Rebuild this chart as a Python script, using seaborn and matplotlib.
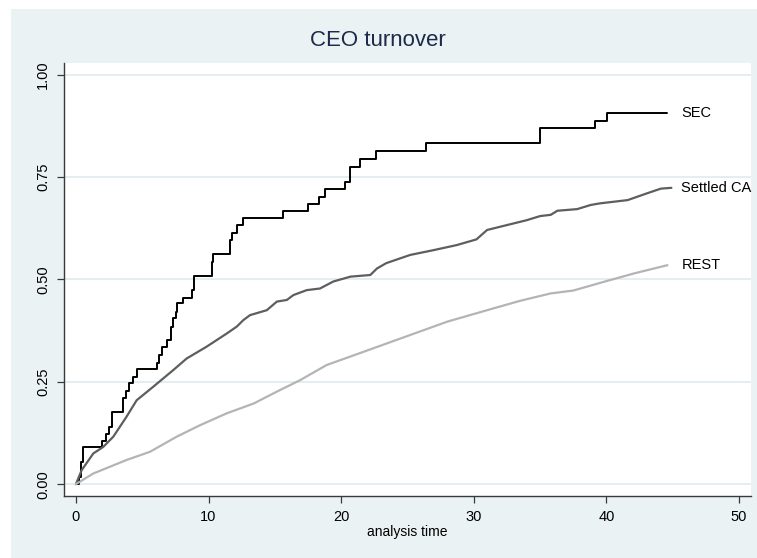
import matplotlib
matplotlib.use("Agg")
import matplotlib.pyplot as plt
from matplotlib.patches import Rectangle
import seaborn as sns
import pandas as pd

# ---- data ----
sec_time = [0, 0.2, 0.35, 0.55, 1.98, 2.3, 2.49, 2.74, 3.57, 3.77, 4.0, 4.27, 4.63,
            6.09, 6.26, 6.46, 6.84, 7.17, 7.35, 7.55, 7.65, 8.1, 8.78, 8.93, 10.24,
            10.36, 11.62, 11.75, 12.13, 12.58, 15.6, 17.46, 18.3, 18.8, 20.3, 20.7,
            21.4, 22.6, 26.4, 35.0, 39.1, 40.05, 44.6]
sec_fail = [0, 0.018, 0.054, 0.09, 0.106, 0.122, 0.14, 0.177, 0.21, 0.228, 0.248,
            0.262, 0.281, 0.297, 0.315, 0.334, 0.352, 0.385, 0.405, 0.421, 0.442,
            0.456, 0.474, 0.509, 0.543, 0.562, 0.597, 0.613, 0.633, 0.65, 0.668,
            0.685, 0.702, 0.72, 0.739, 0.776, 0.795, 0.814, 0.833, 0.869, 0.888,
            0.906, 0.906]

ca_time = [0, 0.43, 1.31, 2.06, 2.82, 3.82, 4.58, 5.83, 7.35, 8.35, 9.86, 11.37,
           12.13, 12.63, 13.13, 14.39, 15.15, 15.9, 16.4, 17.4, 18.4, 19.4, 20.7,
           22.2, 22.7, 23.4, 25.2, 27.0, 28.7, 30.2, 31.0, 32.5, 34.0, 35.0, 35.8,
           36.3, 37.8, 38.8, 39.5, 41.6, 43.1, 44.1, 44.9]
ca_fail = [0, 0.034, 0.075, 0.091, 0.116, 0.165, 0.205, 0.238, 0.279, 0.307, 0.336,
           0.368, 0.385, 0.401, 0.413, 0.425, 0.446, 0.45, 0.462, 0.474, 0.478,
           0.495, 0.507, 0.511, 0.527, 0.54, 0.56, 0.572, 0.584, 0.598, 0.621,
           0.633, 0.645, 0.655, 0.658, 0.668, 0.672, 0.682, 0.686, 0.694, 0.711,
           0.722, 0.724]

rest_time = [0, 1.31, 3.82, 5.58, 7.6, 9.36, 11.37, 13.4, 15.15, 16.9, 18.9, 21.4,
             25.0, 28.0, 31.0, 33.5, 35.8, 37.5, 40.1, 42.1, 44.6]
rest_fail = [0, 0.026, 0.059, 0.079, 0.116, 0.144, 0.173, 0.197, 0.226, 0.254,
             0.291, 0.32, 0.362, 0.397, 0.425, 0.448, 0.466, 0.473, 0.497, 0.515,
             0.535]

series_names = ["SEC", "Settled CA", "REST"]
x_ticks = [0, 10, 20, 30, 40, 50]
y_ticks = [0.0, 0.25, 0.5, 0.75, 1.0]
y_tick_labels = ["0.00", "0.25", "0.50", "0.75", "1.00"]

# ---- style ----
sns.set_theme(style="white")
plt.rcParams["font.family"] = ["Liberation Sans", "DejaVu Sans"]

BG = "#eaf2f3"
W, H = 757, 558
fig = plt.figure(figsize=(W / 100, H / 100), dpi=100)
fig.patch.set_facecolor("white")
fig.patches.append(Rectangle((11 / W, 0), 1 - 11 / W, (H - 9) / H,
                             transform=fig.transFigure, facecolor=BG,
                             edgecolor="none", zorder=-10))

ax = fig.add_axes([64 / W, (H - 496) / H, (751 - 64) / W, (496 - 63) / H])
ax.set_zorder(1)
ax.set_facecolor("white")

styles = [
    (sec_time, sec_fail, "black", 1.4, "steps-post"),
    (ca_time, ca_fail, "#5e5e5e", 1.6, "default"),
    (rest_time, rest_fail, "#b4b4b4", 1.6, "default"),
]
label_x = max(sec_time[-1], ca_time[-1], rest_time[-1]) + 0.75
for name, (t, f, c, lw, ds) in zip(series_names, styles):
    df = pd.DataFrame({"time": t, "fail": f})
    sns.lineplot(data=df, x="time", y="fail", ax=ax, color=c, linewidth=lw,
                 drawstyle=ds, estimator=None, sort=False, zorder=3)
    ax.text(label_x, f[-1], name, ha="left", va="center", fontsize=10.5,
            color="black", zorder=4)

ax.set_xlim(-0.9, 50.9)
ax.set_ylim(-0.029, 1.029)
ax.set_xticks(x_ticks)
ax.set_yticks(y_ticks)
ax.set_yticklabels(y_tick_labels, rotation=90, va="center")
ax.yaxis.grid(True, color="#e4edef", linewidth=1.4, zorder=0)
ax.xaxis.grid(False)
ax.set_axisbelow(True)

for side in ["top", "right"]:
    ax.spines[side].set_visible(False)
for side in ["left", "bottom"]:
    ax.spines[side].set_color("#3a3a3a")
    ax.spines[side].set_linewidth(1.0)
ax.tick_params(axis="both", which="major", direction="out", length=5, width=0.9,
               color="#3a3a3a", labelsize=10.5, labelcolor="black", pad=5,
               left=True, bottom=True)

ax.set_xlabel("analysis time", fontsize=10, color="black", labelpad=1)
ax.set_ylabel("")

fig.text(378 / W, 1 - 40 / H, "CEO turnover", ha="center", va="center",
         fontsize=16, color="#1c2a4c")

fig.savefig("out.png", dpi=100, facecolor=fig.get_facecolor())
